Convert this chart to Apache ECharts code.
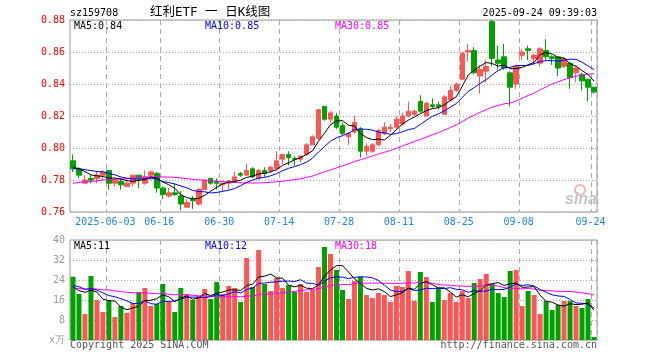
<!DOCTYPE html>
<html>
<head>
<meta charset="utf-8">
<script src="https://cdn.jsdelivr.net/npm/echarts@6/dist/echarts.min.js"></script>
<style>
html,body{margin:0;padding:0;background:#fff;}
#chart{width:660px;height:360px;}
</style>
</head>
<body>
<div id="chart"></div>
<script>
// ---- data ----
const dates = [
'2025-05-23','2025-05-26','2025-05-27','2025-05-28','2025-05-29','2025-05-30',
'2025-06-03','2025-06-04','2025-06-05','2025-06-06','2025-06-09','2025-06-10','2025-06-11','2025-06-12','2025-06-13',
'2025-06-16','2025-06-17','2025-06-18','2025-06-19','2025-06-20','2025-06-23','2025-06-24','2025-06-25','2025-06-26','2025-06-27',
'2025-06-30','2025-07-01','2025-07-02','2025-07-03','2025-07-04','2025-07-07','2025-07-08','2025-07-09','2025-07-10','2025-07-11',
'2025-07-14','2025-07-15','2025-07-16','2025-07-17','2025-07-18','2025-07-21','2025-07-22','2025-07-23','2025-07-24','2025-07-25',
'2025-07-28','2025-07-29','2025-07-30','2025-07-31','2025-08-01','2025-08-04','2025-08-05','2025-08-06','2025-08-07','2025-08-08',
'2025-08-11','2025-08-12','2025-08-13','2025-08-14','2025-08-15','2025-08-18','2025-08-19','2025-08-20','2025-08-21','2025-08-22',
'2025-08-25','2025-08-26','2025-08-27','2025-08-28','2025-08-29','2025-09-01','2025-09-02','2025-09-03','2025-09-04','2025-09-05',
'2025-09-08','2025-09-09','2025-09-10','2025-09-11','2025-09-12','2025-09-15','2025-09-16','2025-09-17','2025-09-18','2025-09-19',
'2025-09-22','2025-09-23','2025-09-24'
];
const tickDates = ['2025-06-03','2025-06-16','2025-06-30','2025-07-14','2025-07-28','2025-08-11','2025-08-25','2025-09-08','2025-09-24'];

const openP = [
0.792,0.787,0.778,0.781,0.781,0.783,0.786,0.778,0.779,0.776,
0.778,0.783,0.778,0.783,0.784,0.775,0.770,0.772,0.770,0.763,
0.768,0.765,0.774,0.781,0.779,0.777,0.778,0.779,0.784,0.783,
0.787,0.781,0.786,0.786,0.787,0.793,0.796,0.7935,0.793,0.796,
0.802,0.806,0.826,0.818,0.820,0.814,0.807,0.810,0.812,0.798,
0.798,0.802,0.809,0.812,0.813,0.815,0.820,0.821,0.829,0.820,
0.827,0.827,0.821,0.830,0.836,0.843,0.860,0.861,0.845,0.848,
0.879,0.855,0.857,0.847,0.840,0.858,0.862,0.856,0.853,0.861,
0.857,0.857,0.851,0.853,0.847,0.846,0.843,0.838
];
const closeP = [
0.787,0.783,0.780,0.780,0.783,0.785,0.778,0.780,0.777,0.778,
0.783,0.781,0.782,0.785,0.775,0.771,0.772,0.771,0.765,0.766,
0.767,0.774,0.780,0.778,0.778,0.778,0.779,0.782,0.783,0.786,
0.782,0.786,0.784,0.788,0.792,0.796,0.794,0.793,0.795,0.802,
0.807,0.824,0.818,0.822,0.813,0.809,0.809,0.816,0.798,0.801,
0.802,0.811,0.813,0.813,0.818,0.820,0.823,0.823,0.823,0.828,
0.826,0.826,0.832,0.836,0.840,0.859,0.861,0.847,0.849,0.851,
0.856,0.853,0.850,0.838,0.851,0.860,0.861,0.858,0.862,0.857,
0.856,0.850,0.856,0.844,0.850,0.842,0.838,0.835
];
const lowP = [
0.785,0.781,0.778,0.778,0.778,0.780,0.774,0.776,0.774,0.776,
0.776,0.775,0.777,0.780,0.772,0.768,0.769,0.770,0.761,0.763,
0.762,0.764,0.774,0.777,0.774,0.773,0.774,0.779,0.782,0.783,
0.781,0.780,0.782,0.784,0.786,0.790,0.789,0.789,0.791,0.795,
0.802,0.805,0.817,0.816,0.812,0.808,0.802,0.809,0.794,0.795,
0.797,0.801,0.808,0.810,0.812,0.814,0.819,0.820,0.822,0.820,
0.825,0.824,0.821,0.829,0.835,0.843,0.854,0.846,0.834,0.841,
0.851,0.849,0.849,0.826,0.837,0.855,0.855,0.852,0.851,0.855,
0.852,0.845,0.850,0.837,0.841,0.836,0.829,0.834
];
const highP = [
0.796,0.788,0.783,0.783,0.785,0.786,0.786,0.781,0.781,0.780,
0.783,0.783,0.786,0.786,0.785,0.776,0.775,0.778,0.773,0.768,
0.770,0.775,0.780,0.781,0.781,0.778,0.780,0.785,0.785,0.790,
0.788,0.787,0.788,0.789,0.798,0.796,0.798,0.795,0.795,0.803,
0.808,0.824,0.826,0.823,0.822,0.816,0.810,0.820,0.813,0.803,
0.803,0.812,0.816,0.815,0.820,0.822,0.829,0.824,0.833,0.829,
0.831,0.829,0.833,0.839,0.841,0.860,0.865,0.863,0.852,0.855,
0.880,0.864,0.865,0.848,0.852,0.862,0.864,0.859,0.863,0.868,
0.858,0.857,0.857,0.854,0.851,0.847,0.843,0.838
];
// volume, 万
const volumes = [
25.3,18.4,10.4,25.6,16,11.2,15.7,9.2,13.6,10.9,
14.8,19.2,20.8,13.6,14.4,22.4,15.2,11.2,20.8,18.4,
16,17.6,20.4,16.4,23.2,18.4,21.6,20.8,15.2,32.8,
21.2,36,22.4,19.6,24.8,20.8,22,19.2,22.4,19.2,
20,29.2,37.2,34.4,28,20,16.4,23.6,25.2,18,
16.8,18.8,18,15.2,21.6,21.2,27.6,15.6,27.2,25.2,
15.2,20.8,16,18.8,15.2,19.6,16.8,22.8,24.4,26.4,
22.4,18.8,17.2,27.6,28,13.6,19.6,18,10.4,15.6,
12,14,15.6,15.6,13.6,12.8,16.4,1.2
];
// sessions before the first visible day (estimated from where the MA lines start)
const priorCloses = [
0.768,0.770,0.772,0.771,0.769,0.770,0.773,0.774,0.772,0.771,
0.773,0.775,0.774,0.776,0.775,0.774,0.776,0.778,0.777,0.780,
0.784,0.786,0.785,0.789,0.787,0.788,0.789,0.790,0.786
];
const priorVolumes = [
19,22,18,21,20,17,23,19,21,20,
22,18,20,21,19,22,20,18,21,21,
24,21,23,22,22.5,26,14,21,20.2
];
const priceTicks = [0.76, 0.88, 0.02];
const volTicks = [0, 40, 8];

// ---- helpers ----
function movingAvg(prior, vals, n) {
  const all = prior.concat(vals);
  const off = prior.length;
  return vals.map((_, i) => {
    let s = 0;
    for (let k = 0; k < n; k++) s += all[off + i - k];
    return s / n;
  });
}
const UP = '#ff5555', DOWN = '#00a000';
const MONO = '"DejaVu Sans Mono", "Liberation Mono", monospace';
const candleData = openP.map((o, i) => [o, closeP[i], lowP[i], highP[i]]);
function isUp(i) {
  if (closeP[i] > openP[i]) return true;
  if (closeP[i] < openP[i]) return false;
  return i > 0 ? closeP[i] >= closeP[i - 1] : true;
}
const volData = volumes.map((v, i) => ({ value: v, itemStyle: { color: isUp(i) ? UP : DOWN } }));

const pMA5 = movingAvg(priorCloses, closeP, 5);
const pMA10 = movingAvg(priorCloses, closeP, 10);
const pMA30 = movingAvg(priorCloses, closeP, 30);
const vMA5 = movingAvg(priorVolumes, volumes, 5);
const vMA10 = movingAvg(priorVolumes, volumes, 10);
const vMA30 = movingAvg(priorVolumes, volumes, 30);
const last = closeP.length - 1;

const showTick = (index) => tickDates.indexOf(dates[index]) >= 0;
const vSplit = { show: true, interval: showTick, lineStyle: { color: '#aaaaaa', width: 1, type: [5, 4] } };
const hSplit = { show: true, lineStyle: { color: '#aaaaaa', width: 1, type: [1, 2] } };

function txt(x, y, text, fill, opts) {
  return {
    type: 'text', x: x, y: y, z: 100,
    style: Object.assign({ text: text, fill: fill, fontSize: 10, fontFamily: MONO,
      align: 'left', verticalAlign: 'middle' }, opts || {})
  };
}

const chart = echarts.init(document.getElementById('chart'), null, { renderer: 'canvas' });
chart.setOption({
  animation: false,
  backgroundColor: '#ffffff',
  grid: [
    { left: 70, top: 20, width: 527, height: 192, show: true, borderColor: '#999999', borderWidth: 1 },
    { left: 70, top: 240, width: 527, height: 100, show: true, borderColor: '#999999', borderWidth: 1 }
  ],
  xAxis: [
    { type: 'category', gridIndex: 0, data: dates, boundaryGap: true,
      axisLine: { show: false }, axisTick: { show: false, interval: showTick },
      axisLabel: { interval: showTick, color: '#1e88d8', fontSize: 10, fontFamily: MONO, margin: 5,
        padding: [0, 7, 0, 0],
        formatter: (v) => v === tickDates[0] ? v : v.slice(5) },
      splitLine: vSplit },
    { type: 'category', gridIndex: 1, data: dates, boundaryGap: true,
      axisLine: { show: false }, axisTick: { show: false, interval: showTick },
      axisLabel: { show: false, interval: showTick },
      splitLine: vSplit }
  ],
  yAxis: [
    { type: 'value', gridIndex: 0, min: priceTicks[0], max: priceTicks[1], interval: priceTicks[2],
      axisLine: { show: false }, axisTick: { show: false },
      axisLabel: { color: '#ff0000', fontSize: 10, fontFamily: MONO, margin: 5, formatter: (v) => v.toFixed(2) },
      splitLine: hSplit },
    { type: 'value', gridIndex: 1, min: volTicks[0], max: volTicks[1], interval: volTicks[2],
      axisLine: { show: false }, axisTick: { show: false },
      axisLabel: { color: '#999999', fontSize: 10, fontFamily: MONO, margin: 5,
        formatter: (v) => v === 0 ? 'x万' : String(v) },
      splitLine: hSplit }
  ],
  series: [
    { type: 'candlestick', xAxisIndex: 0, yAxisIndex: 0, data: candleData, barWidth: 5, z: 2,
      itemStyle: { color: UP, color0: DOWN, borderColor: UP, borderColor0: DOWN, borderWidth: 1 } },
    { type: 'line', xAxisIndex: 0, yAxisIndex: 0, data: pMA30, showSymbol: false, z: 3, lineStyle: { color: '#ff00ff', width: 1 } },
    { type: 'line', xAxisIndex: 0, yAxisIndex: 0, data: pMA10, showSymbol: false, z: 3, lineStyle: { color: '#0000ff', width: 1 } },
    { type: 'line', xAxisIndex: 0, yAxisIndex: 0, data: pMA5, showSymbol: false, z: 3, lineStyle: { color: '#000000', width: 1 } },
    { type: 'bar', xAxisIndex: 1, yAxisIndex: 1, data: volData, barWidth: 5, z: 2 },
    { type: 'line', xAxisIndex: 1, yAxisIndex: 1, data: vMA30, showSymbol: false, z: 3, lineStyle: { color: '#ff00ff', width: 1 } },
    { type: 'line', xAxisIndex: 1, yAxisIndex: 1, data: vMA10, showSymbol: false, z: 3, lineStyle: { color: '#0000ff', width: 1 } },
    { type: 'line', xAxisIndex: 1, yAxisIndex: 1, data: vMA5, showSymbol: false, z: 3, lineStyle: { color: '#000000', width: 1 } }
  ],
  graphic: [
    txt(70, 13.5, 'sz159708', '#000000'),
    txt(150, 12.5, '红利ETF 一 日K线图', '#000000', { fontSize: 12.5, fontFamily: '"DejaVu Sans Mono", "Noto Sans CJK SC", sans-serif' }),
    txt(597, 13.5, '2025-09-24 09:39:03', '#000000', { align: 'right' }),
    txt(74, 26, 'MA5:' + pMA5[last].toFixed(2), '#000000'),
    txt(205, 26, 'MA10:' + pMA10[last].toFixed(2), '#0000ff'),
    txt(335, 26, 'MA30:' + pMA30[last].toFixed(2), '#ff00ff'),
    txt(74, 246.5, 'MA5:' + Math.floor(vMA5[last]), '#000000'),
    txt(205, 246.5, 'MA10:' + Math.floor(vMA10[last]), '#0000ff'),
    txt(335, 246.5, 'MA30:' + Math.floor(vMA30[last]), '#ff00ff'),
    txt(70, 345, 'Copyright 2025 SINA.COM', '#555555'),
    txt(597, 345, 'http://finance.sina.com.cn', '#555555', { align: 'right' }),
    { type: 'circle', z: 1, shape: { cx: 580, cy: 190, r: 5 }, style: { fill: 'none', stroke: '#f4b4b4', lineWidth: 2 } },
    txt(581, 200, 'sina', '#c4c4c4', { align: 'center', fontSize: 16, fontStyle: 'italic', fontWeight: 'bold', fontFamily: 'Arial, "Liberation Sans", sans-serif' })
  ]
});
</script>
</body>
</html>
